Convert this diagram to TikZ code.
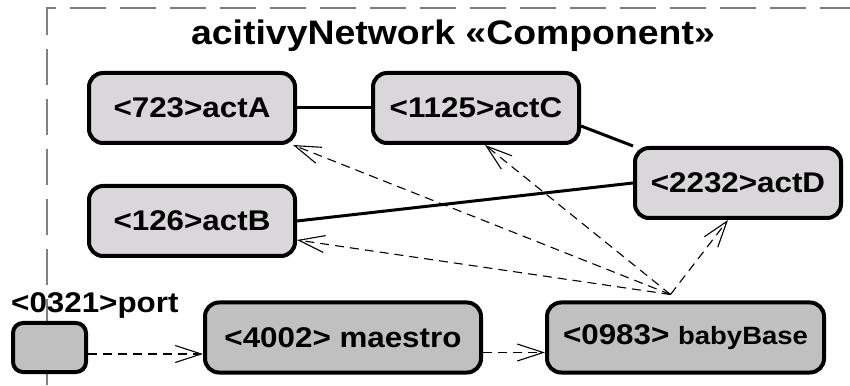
\documentclass[tikz,border=0pt]{standalone}
\usepackage{fontspec}
\setmainfont{Liberation Sans}
\newfontfamily\diafont[FakeStretch=1.1]{Liberation Sans}
\usetikzlibrary{positioning, arrows.meta}

\definecolor{actfill}{RGB}{217,215,217}
\definecolor{rootfill}{RGB}{192,192,192}
\definecolor{framegray}{RGB}{128,128,128}

\tikzset{
  act/.style = {draw, rounded corners=14pt, line width=4pt, fill=actfill, minimum width=206pt, minimum height=70pt, inner sep=0pt, font=\diafont\bfseries\fontsize{28.5}{30}\selectfont},
  root/.style = {act, fill=rootfill},
  wire/.style = {line width=3pt},
  dep/.style = {line width=1.1pt, dash pattern=on 9pt off 6pt, -{Straight Barb[length=26pt, width=17pt]}},
  frame/.style = {draw=framegray, line width=1.5pt, dash pattern=on 36pt off 14pt}
}

\begin{document}
\begin{tikzpicture}[x=1pt, y=1pt]
	\useasboundingbox (0,0) rectangle (850,385);
	\draw[frame] (47,0) -- (47,377) -- (850,377);
	\node[anchor=base, font=\diafont\bfseries\fontsize{34}{36}\selectfont] (title) at (453,340) {acitivyNetwork «Component»};
	\node[act] (actA) at (192,277) {<723>actA};
	\node[act, right=74pt of actA] (actC) {<1125>actC};
	\node[act, below=39pt of actA] (actB) {<126>actB};
	\node[act, below right=1pt and 52pt of actC] (actD) {<2232>actD};
	\node[root, minimum width=276pt] (maestro) at (343,47.5) {<4002> maestro};
	\node[root, minimum width=277pt, right=62pt of maestro] (babyBase) {<0983> {\fontsize{25}{27}\selectfont babyBase}};
	\node[root, rounded corners=10pt, minimum width=73pt, minimum height=49pt] (port) at (49.5,37.5) {};
	\node[anchor=base west, inner sep=0pt, font=\diafont\bfseries\fontsize{28.5}{30}\selectfont] (portname) at ([yshift=8pt]port.north west) {<0321>port};
	\coordinate (hub) at ([xshift=-15pt, yshift=6pt]babyBase.north);
	\draw[wire] (actA) -- (actC);
	\draw[wire] ([yshift=-18pt]actC.east) -- (actD.north west);
	\draw[wire] (actB.east) -- (actD.west);
	\draw[dep] (hub) -- ([xshift=-4pt]actA.south east);
	\draw[dep] (hub) -- ([xshift=9pt]actC.south);
	\draw[dep] (hub) -- ([yshift=-19pt]actB.east);
	\draw[dep] (hub) -- ([xshift=-10pt]actD.south);
	\draw[dep] ([yshift=-6.5pt]port.east) -- ([yshift=-6.5pt]port.east -| maestro.west);
	\draw[dep] ([yshift=-15pt]maestro.east) -- ([yshift=-15pt]maestro.east -| babyBase.west);
\end{tikzpicture}
\end{document}
